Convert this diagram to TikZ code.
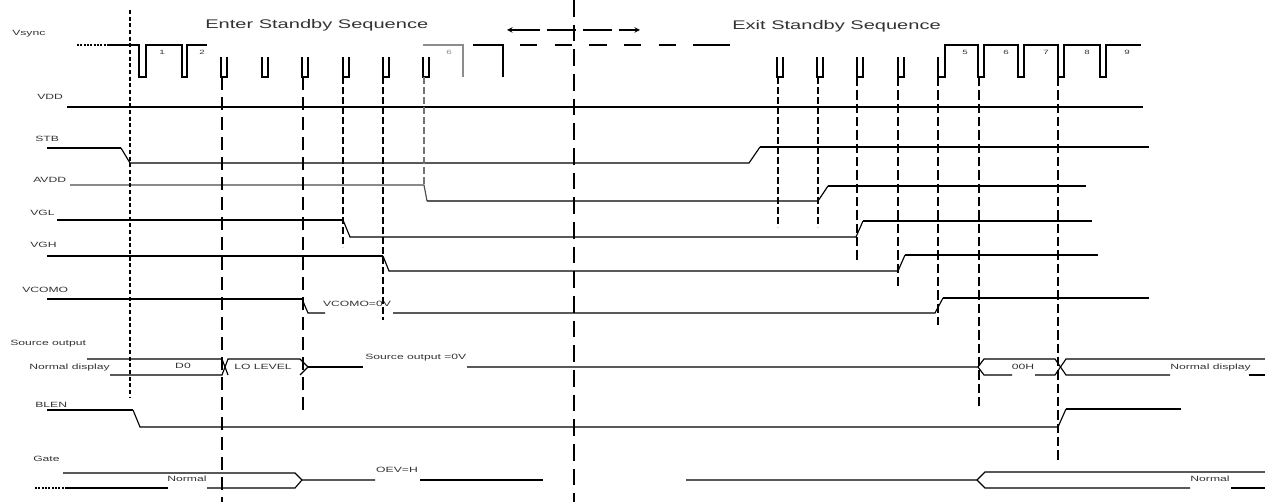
\documentclass[tikz,border=0pt]{standalone}
\usepackage{fontspec}
\setmainfont{Liberation Sans}
\newfontfamily\lblfont[FakeStretch=1.6]{Liberation Sans}

\begin{document}
\begin{tikzpicture}[x = 0.75pt, y = -0.75pt,
    hi/.style = {line width = 1.5pt},
    lo/.style = {line width = 0.85pt},
    sync/.style = {line width = 0.8pt, dash pattern = on 5pt off 2.5pt},
    cut/.style = {line width = 1.3pt, dash pattern = on 10pt off 5pt},
    lbl/.style = {font = \lblfont\fontsize{5.7}{6}\selectfont, text = black!80,
      inner sep = 0, text height = 4pt, text depth = 0pt},
    num/.style = {lbl, font = \lblfont\fontsize{4.6}{5}\selectfont, text height = 3.3pt},
    ttl/.style = {lbl, font = \lblfont\fontsize{9.4}{10}\selectfont, text height = 6.7pt}]
    \useasboundingbox (0,0) rectangle (1265,502);
    \node [ttl, anchor = west] (enter) at (205,24) {Enter Standby Sequence};
    \node [ttl, anchor = west] (exit) at (732,25) {Exit Standby Sequence};
    \node [lbl, anchor = west] (vsync) at (12,33) {Vsync};
    \node [lbl, anchor = west] (vdd) at (37,97) {VDD};
    \node [lbl, anchor = west] (stb) at (35,139) {STB};
    \node [lbl, anchor = west] (avdd) at (33,180) {AVDD};
    \node [lbl, anchor = west] (vgl) at (30,213) {VGL};
    \node [lbl, anchor = west] (vgh) at (30,245) {VGH};
    \node [lbl, anchor = west] (vcomo) at (22,290) {VCOMO};
    \node [lbl, anchor = west] (src) at (10,343) {Source output};
    \node [lbl, anchor = west] (blen) at (35,405) {BLEN};
    \node [lbl, anchor = west] (gate) at (33,459) {Gate};

    \draw [lo, dash pattern = on 1.5pt off 1pt] (77,45) -- (107,45);
    \draw [lo] (107,45) -- (139,45) |- (146,77) |- (182,45) |- (187,77) |- (207,45);
    \node [num] (p1) at (162,52) {1};
    \node [num] (p2) at (202,52) {2};
    \foreach \x in {221,262,302,343,383,423,777,817,857,898} {
      \draw [lo] (\x,57) |- (\x+6,77) -- (\x+6,57);
    }
    \draw [lo, black!45] (423,45) -- (463,45) -- (463,77);
    \node [num, text = black!45] (p6) at (449,52) {6};
    \draw [lo] (473,45) -- (503,45) -- (503,77);
    \draw [lo, dash pattern = on 13pt off 13pt] (520,45) -- (695,45);
    \draw [lo] (695,45) -- (730,45);
    \draw [<->, >=stealth, lo, dash pattern = on 22pt off 5pt] (507,30) -- (640,30);
    \draw [lo] (938,57) |- (945,77) |- (978,45) |- (984,77) |- (1018,45) |- (1024,77)
      |- (1058,45) |- (1064,77) |- (1100,45) |- (1106,77) |- (1141,45);
    \foreach \x/\n in {965/5,1006/6,1046/7,1087/8,1127/9} {
      \node [num] (p\n) at (\x,52) {\n};
    }

    \draw [hi] (67,107) -- (1143,107);

    \draw [hi] (47,148) -- (121,148);
    \draw [lo] (121,148) -- (130,163) -- (749,163) -- (760,147);
    \draw [hi] (760,147) -- (1149,147);

    \draw [lo, black!70] (70,185) -- (424,185) -- (427,201);
    \draw [lo] (427,201) -- (818,201) -- (828,186);
    \draw [hi] (828,186) -- (1086,186);

    \draw [hi] (57,220) -- (343,220);
    \draw [lo] (343,220) -- (350,237) -- (856,237) -- (863,221);
    \draw [hi] (863,221) -- (1092,221);

    \draw [hi] (47,256) -- (383,256);
    \draw [lo] (383,256) -- (389,271) -- (898,271) -- (905,255);
    \draw [hi] (905,255) -- (1098,255);

    \draw [hi] (47,299) -- (302,299);
    \draw [lo] (302,299) -- (308,313) -- (325,313);
    \node [lbl] (vzero) at (357,304) {VCOMO=0V};
    \draw [lo] (393,313) -- (935,313) -- (943,298);
    \draw [hi] (943,298) -- (1149,298);

    \node [lbl, anchor = west] (nd1) at (29,367) {Normal display};
    \draw [lo] (87,359) -- (222,359) -- (228,375);
    \draw [lo] (110,375) -- (222,375) -- (228,359) -- (300,359) -- (308,367) -- (300,375);
    \node [lbl] (d0) at (183,366) {D0};
    \node [lbl] (lolvl) at (263,367) {LO LEVEL};
    \draw [lo] (308,367) -- (363,367);
    \node [lbl, anchor = west] (szero) at (365,357) {Source output =0V};
    \draw [lo] (467,367) -- (978,367) -- (984,359) -- (1055,359) -- (1066,375) -- (1170,375);
    \draw [lo] (978,367) -- (984,375) -- (1012,375);
    \draw [lo] (1035,375) -- (1055,375) -- (1066,359) -- (1265,359);
    \draw [lo] (1249,375) -- (1265,375);
    \node [lbl] (zzh) at (1023,367) {00H};
    \node [lbl, anchor = west] (nd2) at (1170,367) {Normal display};

    \draw [hi] (47,410) -- (133,410);
    \draw [lo] (133,410) -- (140,427) -- (1058,427) -- (1066,409);
    \draw [hi] (1066,409) -- (1181,409);

    \draw [lo, dash pattern = on 1.5pt off 1pt] (35,488) -- (65,488);
    \draw [lo] (63,473) -- (295,473) -- (302,480) -- (375,480);
    \draw [lo] (65,488) -- (168,488);
    \draw [lo] (207,488) -- (295,488) -- (302,480);
    \node [lbl] (gn1) at (187,479) {Normal};
    \node [lbl] (oev) at (397,470) {OEV=H};
    \draw [lo] (420,480) -- (543,480);
    \draw [lo] (686,480) -- (977,480) -- (985,472) -- (1265,472);
    \draw [lo] (977,480) -- (985,488) -- (1190,488);
    \draw [lo] (1231,488) -- (1265,488);
    \node [lbl] (gn2) at (1210,479) {Normal};

    \draw [lo, dash pattern = on 3pt off 2pt] (130,10) -- (130,398);
    \draw [cut] (222,77) -- (222,502);
    \draw [cut] (303,77) -- (303,410);
    \draw [sync, line width = 0.9pt] (343,77) -- (343,247);
    \draw [sync, line width = 0.9pt] (383,77) -- (383,320);
    \draw [sync, black!55] (424,77) -- (424,187);
    \draw [cut, line width = 1.6pt, dash pattern = on 12.5pt off 6pt] (574,0) -- (574,502);
    \foreach \x/\e in {778/227,818/227} {
      \draw [sync] (\x,77) -- (\x,\e);
    }
    \foreach \x/\e in {857/262,898/287,938/325,979/408,1058/462} {
      \draw [sync, line width = 0.9pt, dash pattern = on 7pt off 3pt] (\x,77) -- (\x,\e);
    }
  \end{tikzpicture}
\end{document}
